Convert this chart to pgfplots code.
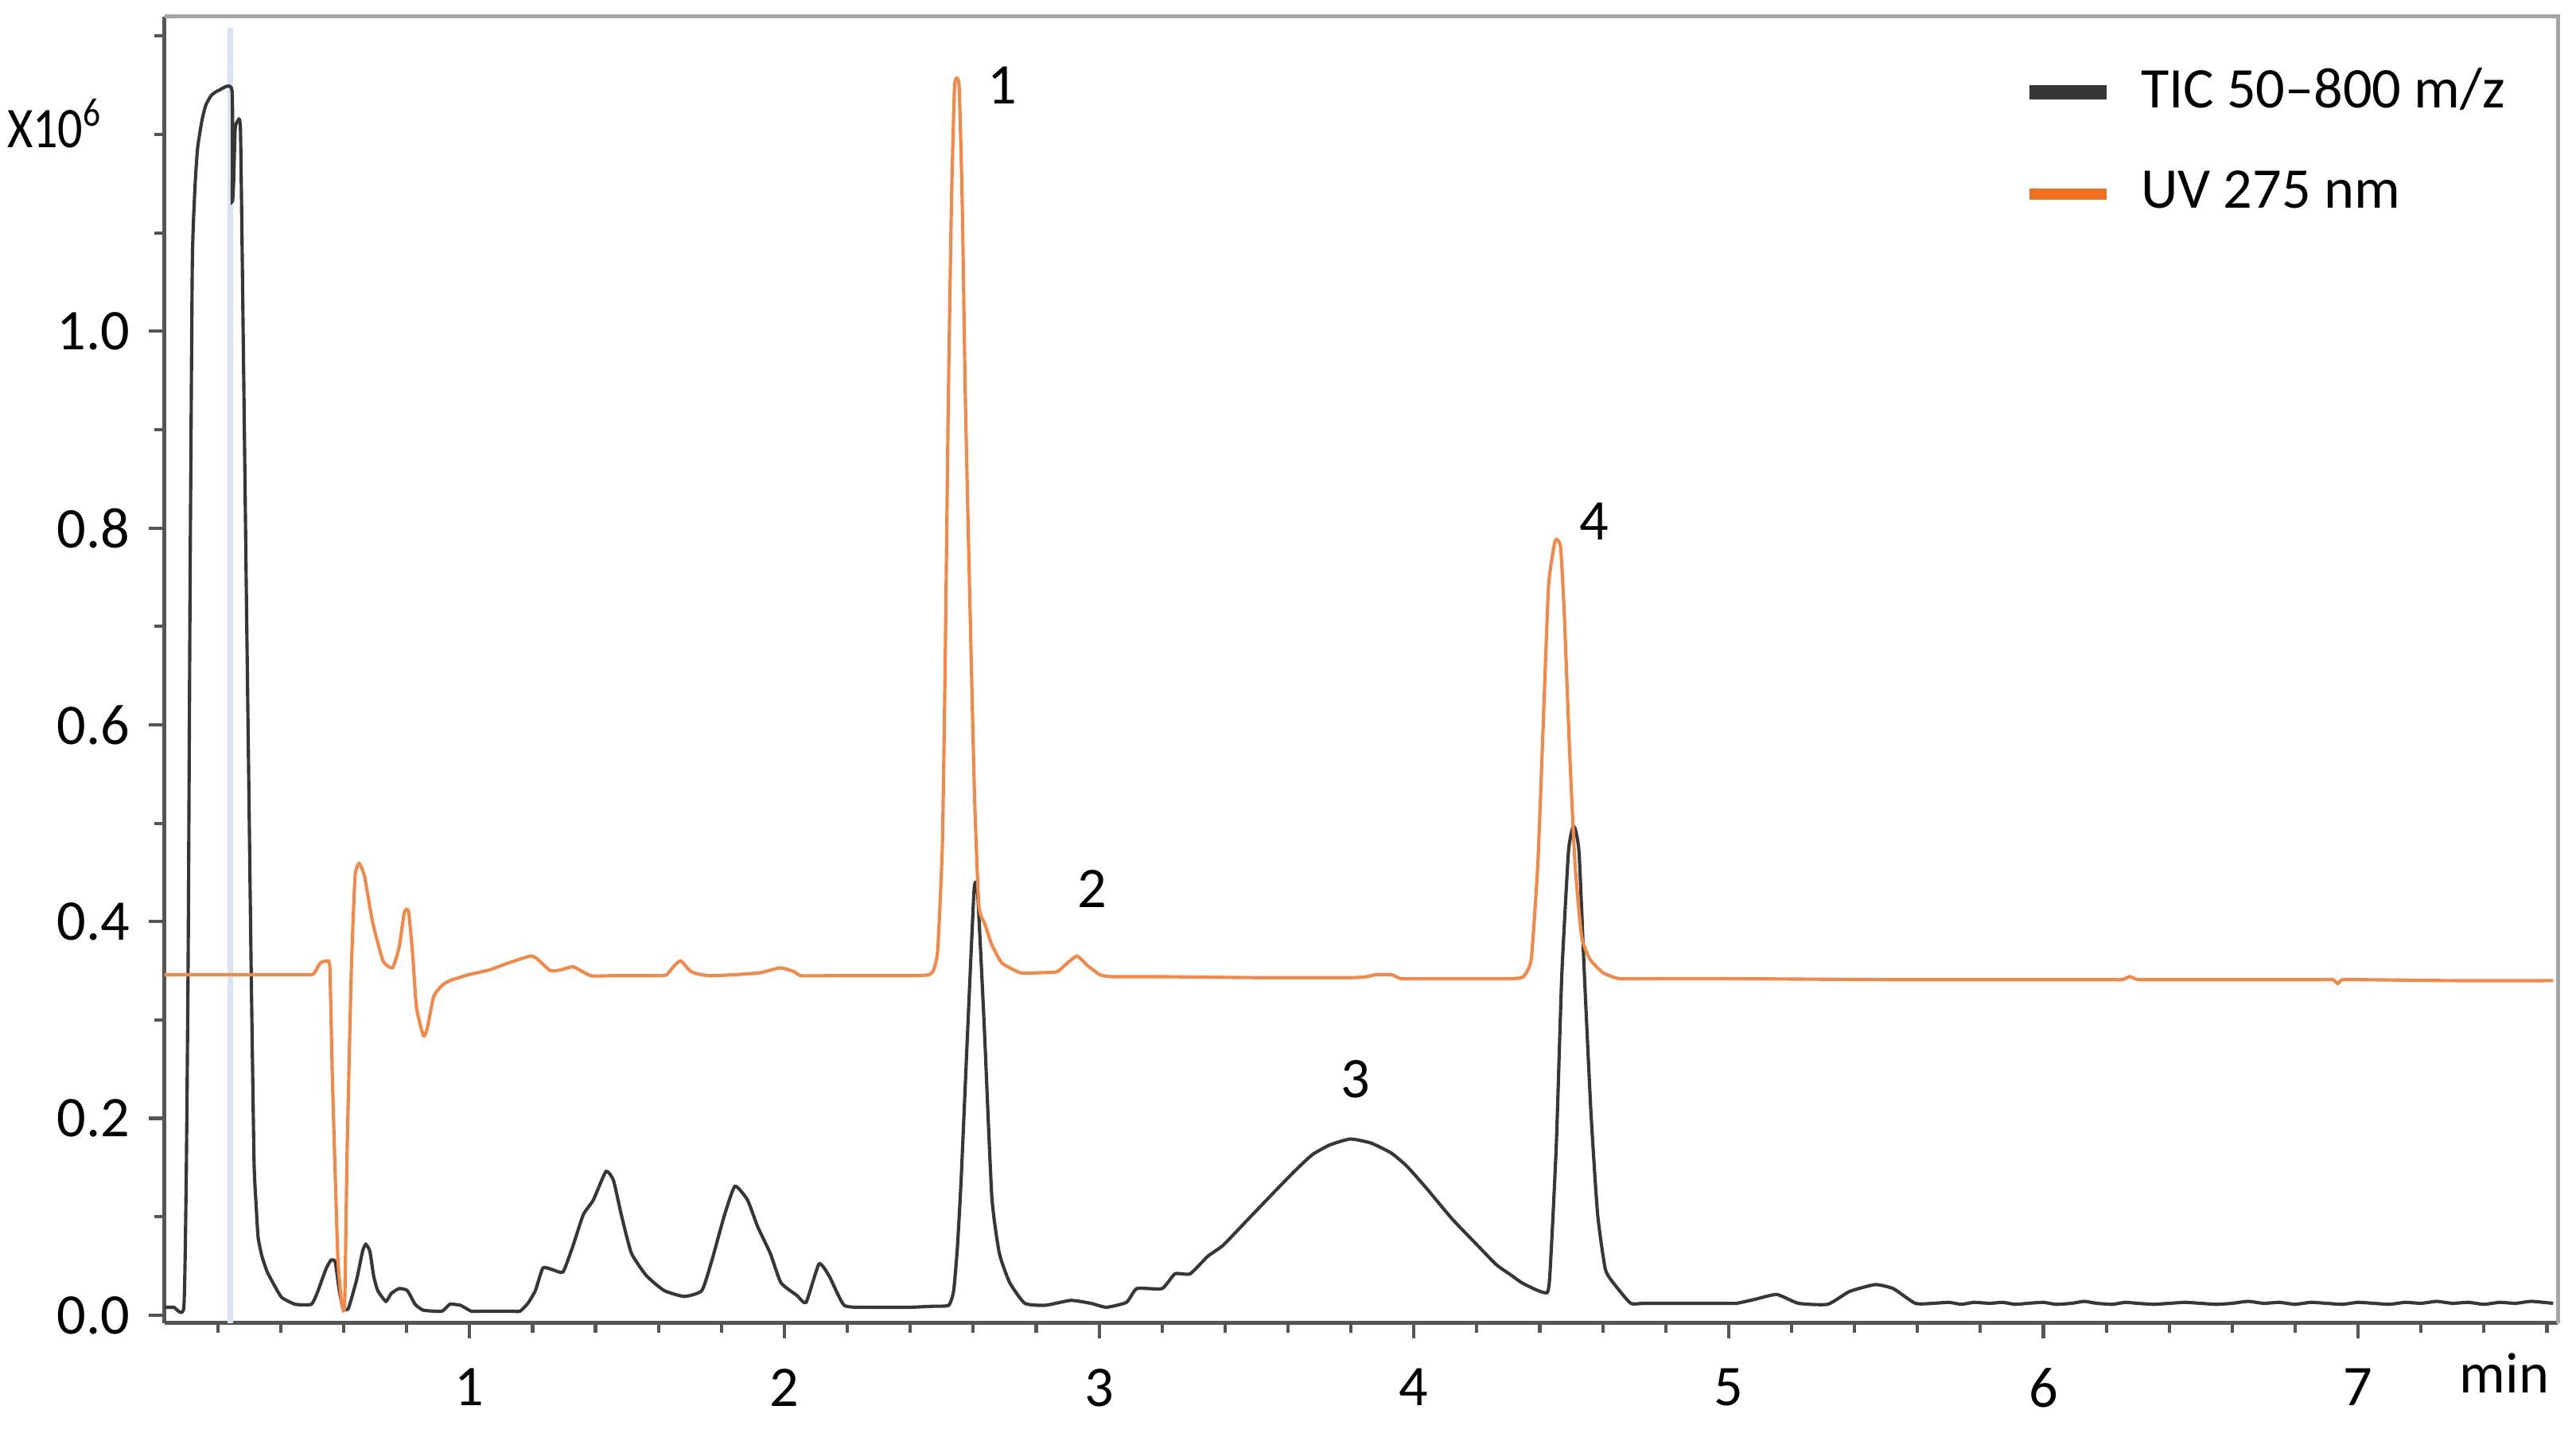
\documentclass[border=0pt]{standalone}
\usepackage{pgfplots}
\pgfplotsset{compat=1.18}
\usepackage{fontspec}
\setmainfont{Carlito}

\definecolor{tic}{RGB}{55,55,55}
\definecolor{uv}{RGB}{243,137,72}
\definecolor{uvleg}{RGB}{240,112,32}
\definecolor{axisdark}{RGB}{85,85,85}
\definecolor{framegray}{RGB}{165,165,165}
\definecolor{marker}{RGB}{214,228,245}

\begin{document}
\begin{tikzpicture}
\begin{axis}[
    scale only axis,
    width=437pt, height=238.5pt,
    xmin=0.03, xmax=7.635,
    ymin=-0.008, ymax=1.32,
    clip mode=individual,
    axis lines*=left,
    axis line style={axisdark, line width=0.8pt},
    xtick={1,2,3,4,5,6,7},
    minor xtick={0.2,0.4,...,7.61},
    ytick={0,0.2,0.4,0.6,0.8,1.0},
    minor ytick={0.1,0.3,0.5,0.7,0.9,1.1,1.2,1.3},
    tick align=outside,
    major tick length=2.8pt, minor tick length=1.8pt,
    tick style={axisdark, line width=0.6pt},
    /pgf/number format/assume math mode=true,
    tick label style={font=\fontsize{10.5}{12}\selectfont},
    y tick label style={/pgf/number format/.cd, fixed, fixed zerofill, precision=1},
    x tick label style={yshift=-2pt},
    extra x ticks={7.465},
    extra x tick labels={min},
    extra x tick style={major tick length=0pt},
    legend style={draw=none, fill=none, at={(rel axis cs:0.769,0.978)}, anchor=north west,
        font=\fontsize{10.5}{12}\selectfont, row sep=6pt, legend cell align=left},
    legend image code/.code={\draw[#1] (0pt,0pt) -- (14pt,0pt); \path (17pt,0pt);},
]
\addlegendimage{tic, line width=2.6pt}
\addlegendentry{TIC 50–800 m/z}
\addlegendimage{uvleg, line width=2pt}
\addlegendentry{UV 275 nm}

% marker line
\addplot[marker, line width=1pt, forget plot] coordinates {(0.24,-0.008) (0.24,1.308)};

% TIC 50-800 m/z
\addplot[tic, line width=0.6pt, smooth, tension=0.3, forget plot] coordinates {
(0.030,0.008) (0.060,0.008) (0.092,0.008) (0.100,0.150) (0.106,0.375) (0.112,0.750)
(0.119,1.070) (0.128,1.150) (0.136,1.187) (0.150,1.215) (0.162,1.230)
(0.180,1.240) (0.204,1.245) (0.245,1.245) (0.246,1.134) (0.250,1.150)
(0.255,1.205) (0.262,1.213) (0.272,1.204) (0.281,0.986) (0.290,0.750)
(0.298,0.550) (0.306,0.350) (0.315,0.157) (0.322,0.110) (0.328,0.079)
(0.340,0.060) (0.357,0.044) (0.380,0.030) (0.403,0.018) (0.446,0.011)
(0.497,0.011) (0.515,0.022) (0.531,0.036) (0.545,0.048) (0.560,0.056)
(0.573,0.054) (0.586,0.025) (0.598,0.007) (0.615,0.007) (0.641,0.036)
(0.660,0.065) (0.670,0.072) (0.683,0.065) (0.695,0.040) (0.708,0.025)
(0.734,0.014) (0.751,0.022) (0.776,0.027) (0.802,0.025) (0.827,0.011)
(0.853,0.005) (0.912,0.004) (0.937,0.011) (0.971,0.010) (1.005,0.004)
(1.040,0.004) (1.130,0.004)
(1.160,0.004) (1.185,0.012) (1.209,0.025) (1.233,0.048) (1.265,0.046)
(1.297,0.044) (1.329,0.071) (1.361,0.102) (1.393,0.117) (1.433,0.146)
(1.457,0.137) (1.482,0.102) (1.514,0.063) (1.562,0.040) (1.618,0.025)
(1.682,0.019) (1.738,0.025) (1.770,0.056) (1.810,0.102) (1.843,0.131)
(1.883,0.117) (1.915,0.090) (1.955,0.063) (1.989,0.033) (2.040,0.020)
(2.069,0.013) (2.110,0.052) (2.142,0.040) (2.190,0.010) (2.263,0.008)
(2.330,0.008) (2.400,0.008) (2.470,0.009)
(2.522,0.010) (2.538,0.025) (2.550,0.070) (2.562,0.140)
(2.583,0.294) (2.603,0.433) (2.614,0.429) (2.635,0.294) (2.659,0.121)
(2.683,0.063) (2.716,0.033) (2.764,0.012) (2.829,0.010) (2.910,0.015)
(2.974,0.012) (3.023,0.008) (3.087,0.013) (3.120,0.027) (3.200,0.027)
(3.241,0.042) (3.289,0.042) (3.346,0.060) (3.394,0.071) (3.475,0.098)
(3.556,0.125) (3.620,0.146) (3.677,0.163) (3.733,0.173) (3.798,0.179)
(3.863,0.175) (3.927,0.165) (3.976,0.152) (4.040,0.129) (4.121,0.098)
(4.202,0.071) (4.263,0.051) (4.312,0.040) (4.348,0.032) (4.424,0.023)
(4.436,0.063) (4.453,0.176) (4.470,0.345) (4.491,0.470) (4.504,0.495)
(4.512,0.495) (4.525,0.470) (4.542,0.345) (4.563,0.204) (4.584,0.102)
(4.609,0.046) (4.643,0.029) (4.689,0.012) (4.730,0.012) (4.850,0.012)
(4.980,0.012) (5.025,0.012) (5.083,0.016)
(5.153,0.021) (5.222,0.012) (5.315,0.011) (5.384,0.024) (5.465,0.031)
(5.523,0.027) (5.593,0.012) (5.650,0.012) (5.700,0.013) (5.740,0.011)
(5.780,0.013) (5.830,0.012) (5.870,0.013) (5.910,0.011) (5.950,0.012)
(6.000,0.013) (6.040,0.011) (6.090,0.012) (6.130,0.014) (6.170,0.012)
(6.220,0.011) (6.260,0.013) (6.300,0.012) (6.350,0.011) (6.400,0.012)
(6.450,0.013) (6.500,0.012) (6.550,0.011) (6.600,0.012) (6.650,0.014)
(6.700,0.012) (6.750,0.013) (6.800,0.011) (6.850,0.013) (6.900,0.012)
(6.950,0.011) (7.000,0.013) (7.050,0.012) (7.100,0.011) (7.150,0.013)
(7.200,0.012) (7.250,0.014) (7.300,0.012) (7.350,0.013) (7.400,0.011)
(7.450,0.013) (7.500,0.012) (7.550,0.014) (7.620,0.012)
};

% UV 275 nm
\addplot[uv, line width=0.6pt, smooth, tension=0.3, forget plot] coordinates {
(0.030,0.346) (0.250,0.346) (0.450,0.346) (0.485,0.346) (0.505,0.347)
(0.526,0.358) (0.547,0.360) (0.556,0.353)
(0.564,0.241) (0.581,0.061) (0.594,0.011) (0.603,0.011) (0.611,0.169)
(0.624,0.349) (0.636,0.446) (0.649,0.459) (0.666,0.446) (0.692,0.399)
(0.725,0.360) (0.755,0.353) (0.776,0.374) (0.793,0.410) (0.806,0.410)
(0.819,0.367) (0.831,0.313) (0.853,0.284) (0.865,0.291) (0.886,0.324)
(0.912,0.335) (0.937,0.340) (0.997,0.346) (1.064,0.351) (1.124,0.358)
(1.193,0.365) (1.215,0.362) (1.257,0.350) (1.290,0.351) (1.329,0.354)
(1.385,0.345) (1.450,0.345) (1.540,0.345) (1.600,0.345) (1.626,0.346) (1.650,0.355) (1.671,0.360) (1.700,0.350)
(1.722,0.347) (1.762,0.345) (1.840,0.346) (1.923,0.348) (1.987,0.353) (2.032,0.349)
(2.053,0.345) (2.150,0.345) (2.300,0.345) (2.420,0.345) (2.460,0.346)
(2.473,0.350) (2.487,0.370) (2.502,0.477) (2.511,0.664)
(2.521,0.932) (2.531,1.132) (2.541,1.250) (2.555,1.250) (2.565,1.132)
(2.575,0.932) (2.589,0.731) (2.604,0.530) (2.618,0.416) (2.638,0.397)
(2.657,0.378) (2.691,0.358) (2.750,0.348) (2.810,0.348) (2.866,0.349) (2.896,0.357)
(2.930,0.365) (2.964,0.355) (3.003,0.346) (3.042,0.344) (3.200,0.344) (3.500,0.343)
(3.800,0.343) (3.850,0.344)
(3.880,0.346) (3.930,0.346) (3.960,0.342) (4.050,0.342) (4.200,0.342) (4.310,0.342) (4.348,0.344) (4.373,0.362)
(4.394,0.459) (4.411,0.600) (4.428,0.741) (4.449,0.787) (4.466,0.781)
(4.478,0.713) (4.495,0.572) (4.512,0.459) (4.533,0.385) (4.559,0.362)
(4.601,0.348) (4.651,0.342) (4.720,0.342) (5.000,0.342) (5.500,0.341)
(6.000,0.341) (6.200,0.341) (6.250,0.341) (6.275,0.344) (6.300,0.341) (6.350,0.341)
(6.600,0.341) (6.880,0.341) (6.920,0.341) (6.935,0.337) (6.950,0.341) (7.000,0.341)
(7.300,0.340) (7.620,0.340)
};

% peak numbers
\node[font=\fontsize{10.5}{12}\selectfont] at (axis cs:2.692,1.250) {1};
\node[font=\fontsize{10.5}{12}\selectfont] at (axis cs:2.979,0.433) {2};
\node[font=\fontsize{10.5}{12}\selectfont] at (axis cs:3.815,0.240) {3};
\node[font=\fontsize{10.5}{12}\selectfont] at (axis cs:4.573,0.807) {4};

% scale factor
\node[anchor=east, inner sep=0pt, font=\fontsize{10.5}{12}\selectfont] at ([xshift=-11pt]rel axis cs:0,0.918) {\scalebox{0.86}[1]{X10\textsuperscript{6}}};

% light top and right frame
\draw[framegray, line width=0.7pt] (rel axis cs:0,1) -- (rel axis cs:1,1) -- (rel axis cs:1,0);

\coordinate (BL) at (rel axis cs:0,0);
\coordinate (TR) at (rel axis cs:1,1);
\end{axis}
\path ([xshift=-30pt,yshift=-20.7pt]BL) rectangle ([xshift=3.3pt,yshift=3pt]TR);
\end{tikzpicture}
\end{document}
